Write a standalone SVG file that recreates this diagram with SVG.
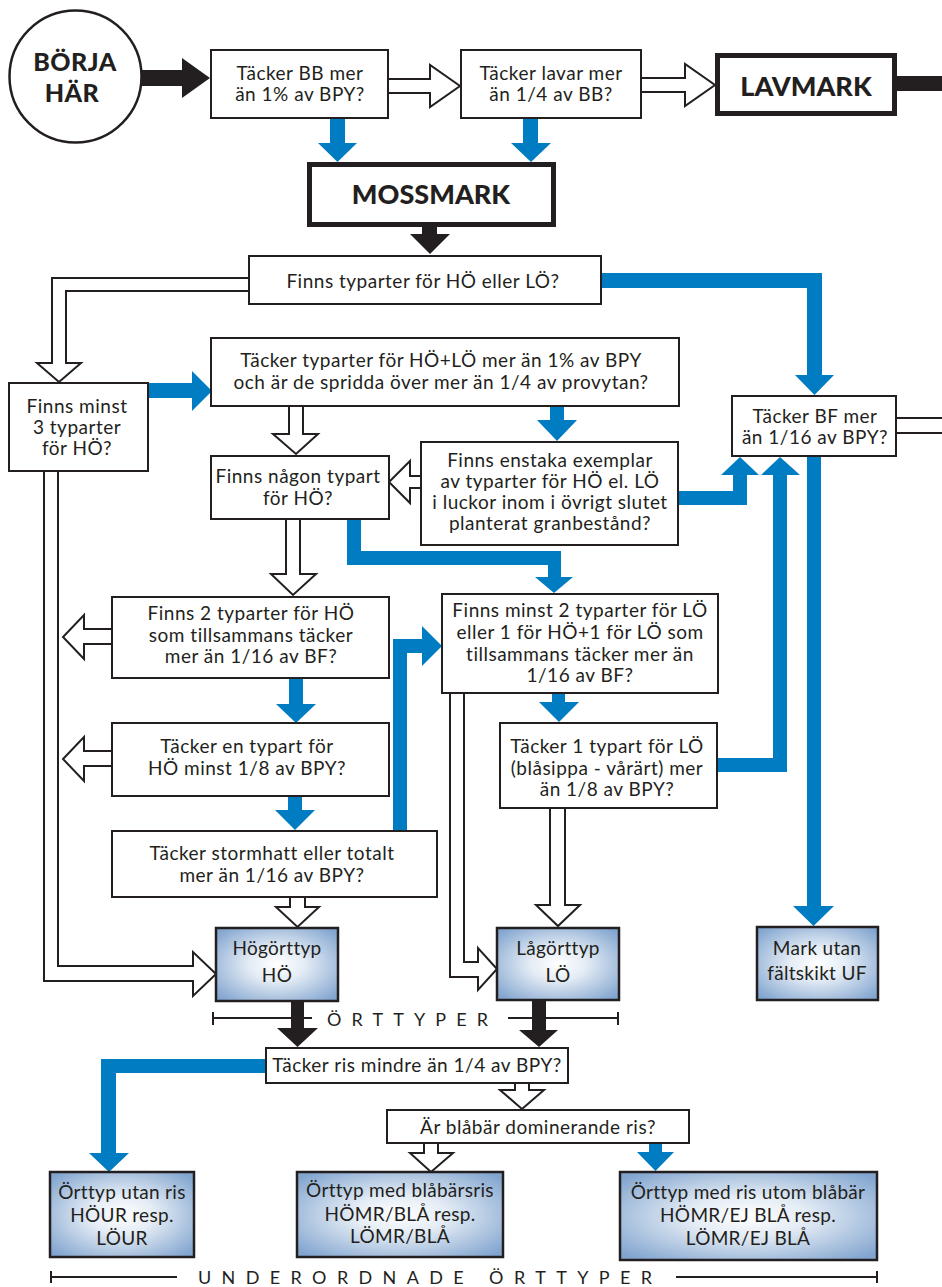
<svg xmlns="http://www.w3.org/2000/svg" width="942" height="1287" viewBox="0 0 942 1287">
<defs>
<radialGradient id="gb" cx="50%" cy="50%" r="65%">
<stop offset="0" stop-color="#ffffff"/>
<stop offset="0.35" stop-color="#e4ecf5"/>
<stop offset="1" stop-color="#82a5cf"/>
</radialGradient>
<style>
.box{fill:#fff;stroke:#231f20;stroke-width:2}
.thick{fill:#fff;stroke:#231f20;stroke-width:5}
.gbox{fill:url(#gb);stroke:#231f20;stroke-width:2.5}
.t{font-family:Lato,"Liberation Sans",sans-serif;font-size:19px;letter-spacing:0.5px;fill:#231f20;text-anchor:middle}
.tg{font-family:Lato,"Liberation Sans",sans-serif;font-size:19px;letter-spacing:0.3px;fill:#231f20;text-anchor:middle}
.b{font-family:Lato,"Liberation Sans",sans-serif;font-size:27px;font-weight:900;fill:#231f20;text-anchor:middle}
.bs{font-family:Lato,"Liberation Sans",sans-serif;font-size:25px;font-weight:900;letter-spacing:0.5px;fill:#231f20;text-anchor:middle}
.sp{font-family:Lato,"Liberation Sans",sans-serif;font-size:18px;fill:#231f20}
.blue{fill:#007cc2}
.blk{fill:#231f20}
.hol{fill:#fff;stroke:#231f20;stroke-width:2;stroke-linejoin:miter}
.ln{fill:none;stroke:#231f20;stroke-width:2}
</style>
</defs>
<rect width="942" height="1287" fill="#fff"/>

<g id="connectors">
<path class="ln" d="M213,1012 V1025 M213,1018 H312 M508,1018 H618 M618,1012 V1025"/>
<path class="ln" d="M51,1271 V1283 M51,1277 H177 M676,1277 H877 M877,1271 V1283"/>
<polygon class="blk" points="140,70 182,70 182,58 210,78 182,98 182,86 140,86"/>
<path class="hol" d="M388,79 H430 V65 L460,86 L430,107 V93 H388"/>
<path class="hol" d="M641,78 H685 V64 L715,85 L685,106 V92 H641"/>
<rect class="blk" x="897" y="76" width="45" height="15"/>
<polygon class="blue" points="330,118 345,118 345,143 357,143 337.5,162 318,143 330,143"/>
<polygon class="blue" points="523,118 538,118 538,143 551,143 531,162 511,143 523,143"/>
<polygon class="blk" points="422,227 437,227 437,234 450,234 430,254 410,234 422,234"/>
<path class="hol" d="M249,278 H52 V363 H37 L59,382 L81,363 H66 V291 H249"/>
<polygon class="blue" points="601,273 822,273 822,375 834,375 814.5,395 795,375 807,375 807,288 601,288"/>
<polygon class="blue" points="148,383 192,383 192,371 212,391 192,411 192,398 148,398"/>
<path class="hol" d="M289,406 V434 H273 L296,454 L318,434 H303 V406"/>
<polygon class="blue" points="550,406 564,406 564,420 577,420 557,441 537,420 550,420"/>
<path class="hol" d="M421,476 H410 V461 L389,482 L410,503 V488 H421"/>
<polygon class="blue" points="678,491 733,491 733,475 721,475 740,457 759,475 747,475 747,505 678,505"/>
<polygon class="blue" points="717,758 773,758 773,475 761,475 780,457 800,475 787,475 787,772 717,772"/>
<polygon class="blue" points="807,456 821,456 821,906 834,906 813.5,926 793,906 807,906"/>
<path class="hol" d="M896,418 H943 V433 H896"/>
<path class="hol" d="M286,519 V574 H271 L293,595 L316,574 H300 V519"/>
<polygon class="blue" points="347,519 361,519 361,551 561,551 561,577 573,577 554,593 535,577 548,577 548,565 347,565"/>
<path class="hol" d="M112,629 H84 V615 L63,637 L84,659 V644 H112"/>
<path class="hol" d="M112,751 H84 V737 L63,759 L84,781 V766 H112"/>
<polygon class="blue" points="289,678 303,678 303,704 316,704 296,723 276,704 289,704"/>
<polygon class="blue" points="288,796 302,796 302,810 315,810 295,830 275,810 288,810"/>
<polygon class="blue" points="393,831 393,639 422,639 422,626 442,646 422,666 422,653 407,653 407,831"/>
<polygon class="blue" points="552,693 565,693 565,702 579,702 559,722 539,702 552,702"/>
<path class="hol" d="M290,897 V907 H276 L297.5,927 L319,907 H305 V897"/>
<path class="hol" d="M44,471 V981 H193 V996 L216,974 L193,952 V966 H58 V471"/>
<path class="hol" d="M550,808 V905 H536 L558,926 L580,905 H565 V808"/>
<path class="hol" d="M450,693 V977 H478 V990 L497,969 L478,948 V962 H464 V693"/>
<polygon class="blk" points="291,1001 304,1001 304,1028 318,1028 297.5,1047 277,1028 291,1028"/>
<polygon class="blk" points="532,1000 546,1000 546,1030 558,1030 539,1047 519,1030 532,1030"/>
<polygon class="blue" points="266,1059 101,1059 101,1153 89,1153 109,1172 129,1153 116,1153 116,1073 266,1073"/>
<path class="hol" d="M515,1083 V1090 H500 L522,1109 L544,1090 H529 V1083"/>
<path class="hol" d="M424,1143 V1153 H410 L431,1172 L453,1153 H438 V1143"/>
<polygon class="blue" points="649,1143 662,1143 662,1152 674,1152 655.5,1171 637,1152 649,1152"/>
</g>

<g id="start">
<circle cx="75.5" cy="76.5" r="66" fill="#fff" stroke="#231f20" stroke-width="2.5"/>
<text class="bs" x="75" y="71">BÖRJA</text>
<text class="bs" x="72" y="102">HÄR</text>
</g>
<g id="n-bb">
<rect class="box" x="211" y="50" width="177" height="68"/>
<text class="t" x="300" y="80">Täcker BB mer</text>
<text class="t" x="300" y="101">än 1% av BPY?</text>
</g>
<g id="n-lavar">
<rect class="box" x="461" y="50" width="180" height="68"/>
<text class="t" x="551" y="80">Täcker lavar mer</text>
<text class="t" x="551" y="101">än 1/4 av BB?</text>
</g>
<g id="n-lavmark">
<rect class="thick" x="717.5" y="55.5" width="177" height="58"/>
<text class="b" x="806" y="96">LAVMARK</text>
</g>
<g id="n-mossmark">
<rect class="thick" x="309.5" y="164.5" width="244" height="60"/>
<text class="b" x="431" y="204">MOSSMARK</text>
</g>
<g id="n-typarter">
<rect class="box" x="249" y="256" width="352" height="48"/>
<text class="t" x="423" y="288">Finns typarter för HÖ eller LÖ?</text>
</g>
<g id="n-minst3">
<rect class="box" x="9" y="383" width="139" height="88"/>
<text class="t" x="77" y="413">Finns minst</text>
<text class="t" x="77" y="434">3 typarter</text>
<text class="t" x="77" y="455">för HÖ?</text>
</g>
<g id="n-hölö">
<rect class="box" x="211" y="338" width="468" height="68"/>
<text class="t" x="441" y="367">Täcker typarter för HÖ+LÖ mer än 1% av BPY</text>
<text class="t" x="441" y="389">och är de spridda över mer än 1/4 av provytan?</text>
</g>
<g id="n-nagon">
<rect class="box" x="211" y="456" width="178" height="63"/>
<text class="t" x="298" y="483">Finns någon typart</text>
<text class="t" x="298" y="505">för HÖ?</text>
</g>
<g id="n-enstaka">
<rect class="box" x="421" y="442" width="257" height="103"/>
<text class="t" x="550" y="467">Finns enstaka exemplar</text>
<text class="t" x="550" y="488">av typarter för HÖ el. LÖ</text>
<text class="t" x="550" y="509">i luckor inom i övrigt slutet</text>
<text class="t" x="550" y="530">planterat granbestånd?</text>
</g>
<g id="n-bf">
<rect class="box" x="732" y="396" width="164" height="60"/>
<text class="t" x="815" y="423">Täcker BF mer</text>
<text class="t" x="815" y="444">än 1/16 av BPY?</text>
</g>
<g id="n-2hö">
<rect class="box" x="112" y="597" width="277" height="81"/>
<text class="t" x="251" y="620">Finns 2 typarter för HÖ</text>
<text class="t" x="251" y="642">som tillsammans täcker</text>
<text class="t" x="251" y="663">mer än 1/16 av BF?</text>
</g>
<g id="n-enhö">
<rect class="box" x="112" y="723" width="277" height="73"/>
<text class="t" x="247" y="753">Täcker en typart för</text>
<text class="t" x="247" y="775">HÖ minst 1/8 av BPY?</text>
</g>
<g id="n-storm">
<rect class="box" x="112" y="831" width="325" height="66"/>
<text class="t" x="272" y="860">Täcker stormhatt eller totalt</text>
<text class="t" x="272" y="882">mer än 1/16 av BPY?</text>
</g>
<g id="n-2lö">
<rect class="box" x="442" y="594" width="276" height="99"/>
<text class="t" x="580" y="617">Finns minst 2 typarter för LÖ</text>
<text class="t" x="580" y="639">eller 1 för HÖ+1 för LÖ som</text>
<text class="t" x="580" y="661">tillsammans täcker mer än</text>
<text class="t" x="580" y="682">1/16 av BF?</text>
</g>
<g id="n-1lö">
<rect class="box" x="500" y="723" width="217" height="85"/>
<text class="t" x="607" y="753">Täcker 1 typart för LÖ</text>
<text class="t" x="607" y="775">(blåsippa - vårärt) mer</text>
<text class="t" x="607" y="796">än 1/8 av BPY?</text>
</g>
<g id="n-hö">
<rect class="gbox" x="216" y="928" width="122" height="73"/>
<text class="tg" x="277" y="955">Högörttyp</text>
<text class="tg" x="277" y="982">HÖ</text>
</g>
<g id="n-lö">
<rect class="gbox" x="497" y="928" width="122" height="72"/>
<text class="tg" x="558" y="955">Lågörttyp</text>
<text class="tg" x="558" y="982">LÖ</text>
</g>
<g id="n-uf">
<rect class="gbox" x="757" y="927" width="121" height="73"/>
<text class="tg" x="817" y="955">Mark utan</text>
<text class="tg" x="817" y="980">fältskikt UF</text>
</g>
<text class="sp" x="327" y="1026" textLength="161" lengthAdjust="spacing">ÖRTTYPER</text>
<g id="n-ris">
<rect class="box" x="266" y="1048" width="302" height="35"/>
<text class="t" x="417" y="1072">Täcker ris mindre än 1/4 av BPY?</text>
</g>
<g id="n-blabar">
<rect class="box" x="387" y="1110" width="302" height="33"/>
<text class="t" x="538" y="1134">Är blåbär dominerande ris?</text>
</g>
<g id="n-utanris">
<rect class="gbox" x="50" y="1172" width="144" height="85"/>
<text class="tg" x="122" y="1199">Örttyp utan ris</text>
<text class="tg" x="122" y="1222">HÖUR resp.</text>
<text class="tg" x="122" y="1245">LÖUR</text>
</g>
<g id="n-medbla">
<rect class="gbox" x="297" y="1172" width="206" height="85"/>
<text class="tg" x="400" y="1197">Örttyp med blåbärsris</text>
<text class="tg" x="400" y="1221">HÖMR/BLÅ resp.</text>
<text class="tg" x="400" y="1243">LÖMR/BLÅ</text>
</g>
<g id="n-utombla">
<rect class="gbox" x="620" y="1172" width="257" height="88"/>
<text class="tg" x="748" y="1199">Örttyp med ris utom blåbär</text>
<text class="tg" x="748" y="1222">HÖMR/EJ BLÅ resp.</text>
<text class="tg" x="748" y="1245">LÖMR/EJ BLÅ</text>
</g>
<text class="sp" x="198" y="1284" textLength="454" lengthAdjust="spacing">UNDERORDNADE ÖRTTYPER</text>
</svg>
